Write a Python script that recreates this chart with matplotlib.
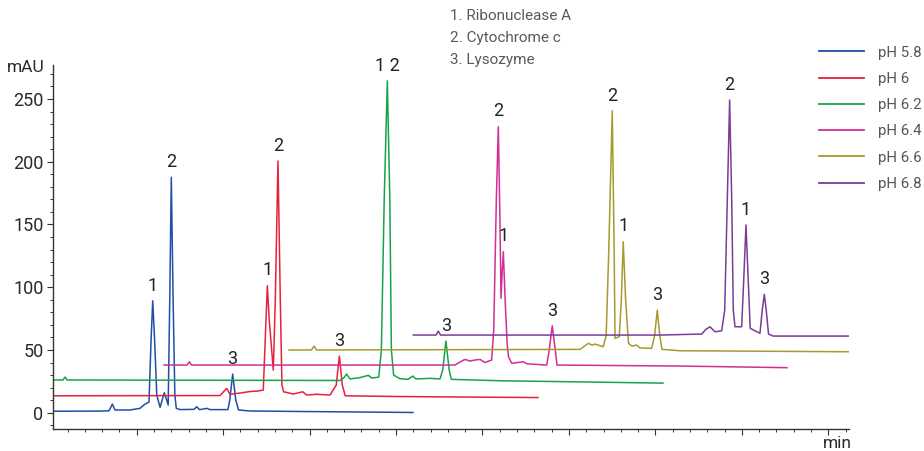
import numpy as np
import matplotlib
matplotlib.use("Agg")
from matplotlib import pyplot as plt
from matplotlib.ticker import MultipleLocator, NullFormatter

plt.rcParams['font.family'] = ['Roboto', 'DejaVu Sans']

# chromatogram traces (time in min, absorbance in mAU, offsets already applied)
t_58 = [0.0, 0.575, 0.68, 0.718, 0.749, 0.922, 1.038, 1.096, 1.131, 1.142, 1.166, 1.185, 1.207, 1.232, 1.270,
        1.319, 1.347, 1.364, 1.382, 1.400, 1.421, 1.441, 1.458, 1.501, 1.663, 1.694, 1.726, 1.767, 1.810, 1.848,
        2.056, 2.076, 2.110, 2.146, 2.178, 2.311, 2.891, 4.196]
a_58 = [1.2, 1.3, 1.6, 6.9, 2.2, 2.2, 3.5, 6.9, 8.1, 8.5, 57.9, 89.2, 57.9, 14.1, 4.3,
        15.9, 10.1, 6.1, 89.8, 187.6, 89.8, 14.1, 3.5, 2.5, 2.7, 4.8, 2.5, 2.9, 3.5, 2.5,
        2.5, 10.1, 30.8, 10.1, 2.2, 1.4, 1.0, 0.2]

t_60 = [0.0, 1.964, 2.041, 2.079, 2.195, 2.311, 2.403, 2.464, 2.482, 2.511, 2.533, 2.580, 2.603, 2.634, 2.661,
        2.680, 2.699, 2.811, 2.920, 2.966, 3.082, 3.236, 3.308, 3.344, 3.378, 3.412, 4.046, 5.642]
a_60 = [13.5, 13.7, 19.4, 14.7, 15.7, 16.9, 17.3, 18.1, 50.0, 101.2, 73.9, 34.0, 89.8, 200.6, 89.8,
        22.1, 16.7, 14.9, 16.7, 14.1, 14.7, 14.1, 22.1, 45.2, 22.1, 13.5, 12.9, 12.1]

t_62 = [0.0, 0.147, 0.171, 0.194, 3.352, 3.392, 3.429, 3.467, 3.583, 3.679, 3.722, 3.800, 3.830, 3.863, 3.899,
        3.928, 3.946, 3.972, 4.045, 4.138, 4.193, 4.231, 4.393, 4.508, 4.540, 4.577, 4.615, 4.640, 5.203, 7.088]
a_62 = [26.1, 26.1, 28.4, 26.1, 25.7, 27.6, 30.8, 26.9, 28.0, 29.8, 27.6, 28.4, 50.0, 169.5, 264.5,
        169.5, 50.0, 30.0, 27.1, 26.6, 29.2, 26.9, 27.4, 26.9, 34.0, 57.1, 34.0, 26.6, 25.5, 23.6]

t_64 = [1.316, 1.582, 1.608, 1.634, 4.682, 4.740, 4.797, 4.855, 4.913, 4.971, 5.029, 5.106, 5.130, 5.160, 5.183,
        5.202, 5.214, 5.229, 5.241, 5.262, 5.286, 5.301, 5.338, 5.472, 5.515, 5.743, 5.772, 5.807, 5.842, 5.862,
        7.285, 8.522]
a_64 = [38.0, 38.0, 40.6, 38.0, 38.0, 40.4, 42.5, 41.2, 42.0, 42.5, 40.0, 42.0, 65.9, 169.5, 227.9,
        153.4, 91.2, 113.7, 128.3, 89.8, 54.0, 44.6, 39.4, 40.6, 39.0, 38.0, 50.0, 69.3, 50.0, 38.0,
        37.2, 35.9]

t_66 = [2.762, 3.022, 3.051, 3.080, 6.128, 6.224, 6.267, 6.301, 6.397, 6.431, 6.461, 6.501, 6.523, 6.533, 6.582,
        6.606, 6.628, 6.656, 6.689, 6.729, 6.784, 6.822, 6.957, 6.992, 7.022, 7.050, 7.076, 7.284, 9.231]
a_66 = [50.0, 50.0, 53.1, 50.0, 50.5, 55.3, 53.9, 54.7, 52.6, 61.9, 129.6, 240.6, 129.6, 59.3, 60.6,
        89.8, 136.3, 89.8, 55.3, 53.1, 53.9, 51.6, 51.3, 61.9, 81.8, 61.9, 50.5, 49.4, 48.6]

t_68 = [4.200, 4.462, 4.489, 4.514, 7.053, 7.536, 7.585, 7.631, 7.690, 7.767, 7.802, 7.832, 7.859, 7.883, 7.901,
        7.921, 7.998, 8.022, 8.048, 8.074, 8.097, 8.152, 8.210, 8.236, 8.260, 8.282, 8.309, 8.363, 9.231]
a_68 = [61.9, 61.9, 65.1, 61.9, 61.9, 62.7, 66.5, 68.5, 64.5, 65.3, 81.8, 169.5, 249.2, 169.5, 81.8,
        68.5, 68.5, 105.7, 149.6, 105.7, 67.3, 65.3, 63.3, 81.8, 94.3, 81.8, 62.7, 61.1, 61.1]

# peak numbers: (label, retention time)
peaks_58 = [("1", 1.185), ("2", 1.400), ("3", 2.110)]
peaks_60 = [("1", 2.511), ("2", 2.634), ("3", 3.344)]
peaks_62 = [("1 2", 3.899), ("3", 4.577)]
peaks_64 = [("2", 5.183), ("1", 5.241), ("3", 5.807)]
peaks_66 = [("2", 6.501), ("1", 6.628), ("3", 7.022)]
peaks_68 = [("2", 7.859), ("1", 8.048), ("3", 8.260)]

series_names = ["pH 5.8", "pH 6", "pH 6.2", "pH 6.4", "pH 6.6", "pH 6.8"]
compounds = ["1. Ribonuclease A", "2. Cytochrome c", "3. Lysozyme"]

colors = ["#1f4fa6", "#e8203f", "#17a34a", "#d42d98", "#a89a2c", "#7d3a98"]

traces = [(t_58, a_58, peaks_58), (t_60, a_60, peaks_60), (t_62, a_62, peaks_62),
          (t_64, a_64, peaks_64), (t_66, a_66, peaks_66), (t_68, a_68, peaks_68)]

fig = plt.figure(figsize=(9.24, 4.51), dpi=100)
ax = fig.add_axes([53.3 / 924, 21.7 / 451, 795.2 / 924, 364.3 / 451])

for (t, a, pk), name, c in zip(traces, series_names, colors):
    ax.plot(t, a, color=c, lw=1.1, label=name, solid_joinstyle='round')
    for lab, rt in pk:
        top = np.interp(rt, t, a)
        ax.annotate(lab, xy=(rt, top), xytext=(0, 4.5), textcoords='offset points',
                    ha='center', va='bottom', fontsize=13, color='#222222')

ax.set_xlim(0.035, 9.234)
ax.set_ylim(-13.2, 277.1)

ax.spines['top'].set_visible(False)
ax.spines['right'].set_visible(False)
for s in ['left', 'bottom']:
    ax.spines[s].set_color('#333333')
    ax.spines[s].set_linewidth(1.0)

ax.xaxis.set_major_locator(MultipleLocator(1))
ax.xaxis.set_minor_locator(MultipleLocator(0.2))
ax.xaxis.set_major_formatter(NullFormatter())
ax.yaxis.set_major_locator(MultipleLocator(50))
ax.yaxis.set_minor_locator(MultipleLocator(10))
ax.set_yticks([0, 50, 100, 150, 200, 250])
ax.tick_params(axis='both', which='major', direction='out', length=4.5, width=0.8, color='#333333',
               labelsize=13, labelcolor='#2a2a2a', pad=2.5)
ax.tick_params(axis='both', which='minor', direction='out', length=2.2, width=0.7, color='#333333')

fig.text(45 / 924, 1 - 68 / 451, "mAU", ha='right', va='center', fontsize=12.5, color='#2a2a2a')
fig.text(837.5 / 924, 1 - 443 / 451, "min", ha='center', va='center', fontsize=12.5, color='#2a2a2a')

# compound key at the top
for i, txt in enumerate(compounds):
    fig.text(450 / 924, 1 - (16.5 + 21.7 * i) / 451, txt, ha='left', va='center',
             fontsize=11, color='#5a5a5a')

leg = fig.legend(loc='upper left', bbox_to_anchor=(819 / 924, 1 - 45.5 / 451), frameon=False,
                 borderaxespad=0, borderpad=0, handlelength=3.0, handletextpad=0.9,
                 labelspacing=0.82, fontsize=10.8)
for txt in leg.get_texts():
    txt.set_color('#555555')
for line in leg.get_lines():
    line.set_linewidth(1.3)

fig.savefig("out.png", dpi=100)
